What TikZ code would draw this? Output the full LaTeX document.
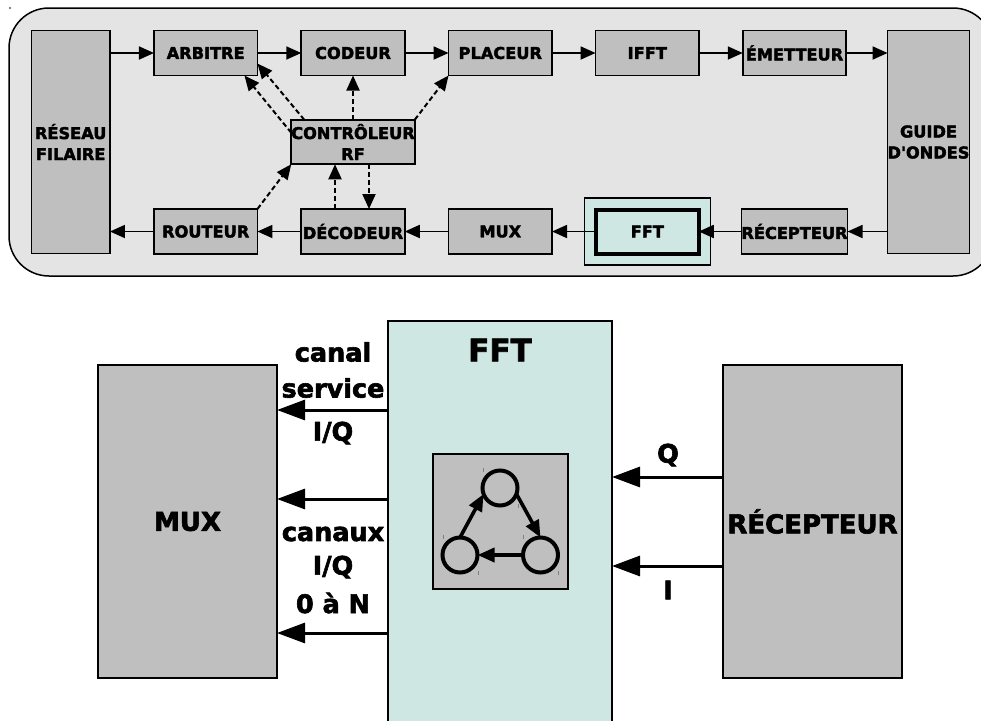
\documentclass[tikz,border=0pt]{standalone}
\usepackage{fontspec}
\setmainfont{DejaVu Sans}[BoldFeatures={FakeBold=2.4}]
\font\aposfont="DejaVu Sans/B:embolden=2.4" at 16.2pt
\usetikzlibrary{arrows.meta,calc}
\definecolor{bgpanel}{HTML}{E4E4E4}
\definecolor{boxgray}{HTML}{BFBFBF}
\definecolor{fftteal}{HTML}{CFE7E3}
\tikzset{
  x=1pt,y=-1pt,
  blk/.style={draw=black,fill=boxgray,line width=1.7pt,inner sep=0pt,outer sep=0pt,align=center,
    font=\fontsize{16.2}{21}\selectfont\bfseries},
  bigblk/.style={blk,font=\fontsize{26}{30}\selectfont\bfseries},
  lbl/.style={inner sep=0pt,align=center,font=\fontsize{25.5}{30}\selectfont\bfseries},
  flow/.style={draw=black,line width=1.8pt,-{Triangle[length=15pt,width=13pt]}},
  ctl/.style={flow,line width=2pt,dash pattern=on 5pt off 3pt},
  fat/.style={draw=black,line width=3pt,-{Triangle[length=28pt,width=20pt]}},
  ring/.style={circle,draw=black,line width=4pt,minimum size=35pt,inner sep=0pt,outer sep=0pt},
  ringarrow/.style={draw=black,line width=3.6pt,-{Triangle[length=17pt,width=14pt]}},
  handle/.style={draw=gray,line width=0.7pt}
}
\begin{document}
\begin{tikzpicture}
\path[use as bounding box,clip] (0,0) rectangle (981,720);
% upper panel
\node[draw=none,fill=gray,minimum size=1.5pt,inner sep=0pt] (speck) at (10,8) {};
\node[draw=black,line width=1.5pt,fill=bgpanel,rounded corners=40pt,minimum width=984pt,minimum height=268pt,inner sep=0pt,outer sep=0pt] (panel) at (501,142) {};
\node[blk,minimum width=78.5pt,minimum height=223pt] (res) at (70.7,142) {RÉSEAU\\FILAIRE};
\node[blk,minimum width=103.5pt,minimum height=45pt] (arb) at (205.7,53) {ARBITRE};
\node[blk,minimum width=103.5pt,minimum height=45pt] (cod) at (353,53) {CODEUR};
\node[blk,minimum width=103.5pt,minimum height=45pt] (pla) at (500.3,53) {PLACEUR};
\node[blk,minimum width=103.5pt,minimum height=45pt] (ifft) at (647.3,53) {IFFT};
\node[blk,minimum width=103.5pt,minimum height=45pt] (eme) at (794.5,53) {ÉMETTEUR};
\node[blk,minimum width=80.5pt,minimum height=223pt] (gui) at (928.5,142) {GUIDE\\D{\aposfont '}ONDES};
\node[blk,minimum width=121pt,minimum height=44.5pt] (ctrl) at (353,142) {CONTRÔLEUR\\RF};
\node[blk,minimum width=103.5pt,minimum height=45pt] (rou) at (205.7,231.5) {ROUTEUR};
\node[blk,minimum width=103.5pt,minimum height=45pt] (dec) at (353,231.5) {DÉCODEUR};
\node[blk,minimum width=103.5pt,minimum height=45pt] (mux) at (500.3,231.5) {MUX};
\node[draw=black,line width=1.3pt,fill=fftteal,minimum width=125.5pt,minimum height=67pt,inner sep=0pt,outer sep=0pt] (fftout) at (647.5,231.5) {};
\node[blk,fill=fftteal,line width=4pt,minimum width=103pt,minimum height=44pt] (fftin) at (647.3,231.5) {FFT};
\node[blk,minimum width=103.5pt,minimum height=45pt] (rec) at (794.5,231.5) {RÉCEPTEUR};
\draw[flow] (res.east |- arb.west) -- (arb.west);
\draw[flow] (arb) -- (cod);
\draw[flow] (cod) -- (pla);
\draw[flow] (pla) -- (ifft);
\draw[flow] (ifft) -- (eme);
\draw[flow] (eme.east) -- (gui.west |- eme.east);
\draw[flow] (gui.west |- rec.east) -- (rec.east);
\draw[flow] (rec.west) -- (fftin.east);
\draw[flow] (fftin.west) -- (mux.east);
\draw[flow] (mux) -- (dec);
\draw[flow] (dec) -- (rou);
\draw[flow] (rou.west) -- (res.east |- rou.west);
\draw[ctl] ($(ctrl.north west)+(0,13)$) -- ($(arb.south east)+(-13,0)$);
\draw[ctl] ($(ctrl.north west)+(13,0)$) -- ($(arb.south east)+(0,-12)$);
\draw[ctl] (ctrl.north) -- (cod.south);
\draw[ctl] (ctrl.north east) -- (pla.south west);
\draw[ctl] (rou.north east) -- (ctrl.south west);
\draw[ctl] ($(dec.north)+(-18,0)$) -- ($(ctrl.south)+(-18,0)$);
\draw[ctl] ($(ctrl.south)+(16,0)$) -- ($(dec.north)+(16,0)$);
% lower detail
\node[bigblk,minimum width=179pt,minimum height=313pt] (bmux) at (187.5,521.5) {MUX};
\node[draw=black,line width=1.7pt,fill=fftteal,minimum width=224pt,minimum height=430pt,inner sep=0pt,outer sep=0pt] (bfft) at (500,536) {};
\node[inner sep=0pt,font=\fontsize{31}{34}\selectfont\bfseries] (bfftt) at (500,350) {FFT};
\node[bigblk,minimum width=179pt,minimum height=313pt] (brec) at (812.5,521.5) {RÉCEPTEUR};
\node[blk,minimum width=135pt,minimum height=135pt] (inner) at (500.5,521.5) {};
\node[ring] (r1) at (500,488) {};
\node[ring] (r2) at (540.5,555) {};
\node[ring] (r3) at (460,555) {};
\draw[ringarrow] (r1.340) -- (r2.north);
\draw[ringarrow] (r2.west) -- (r3.east);
\draw[ringarrow] (r3.north) -- (r1.200);
\foreach \hx/\hy in {483/470,518.5/506,443/537,478.5/573,523/537,558.5/573}
  \draw[handle] (\hx,\hy-2) -- (\hx,\hy+2);
\draw[fat] (bfft.west |- 0,410) -- (bmux.east |- 0,410);
\draw[fat] (bfft.west |- 0,499) -- (bmux.east |- 0,499);
\draw[fat] (bfft.west |- 0,633) -- (bmux.east |- 0,633);
\draw[fat] (brec.west |- 0,477) -- (bfft.east |- 0,477);
\draw[fat] (brec.west |- 0,566) -- (bfft.east |- 0,566);
\node[lbl] (l1) at (333,352) {canal};
\node[lbl] (l2) at (333,388) {service};
\node[lbl] (l3) at (333,433) {I/Q};
\node[lbl] (l4) at (333,534) {canaux};
\node[lbl] (l5) at (333,567) {I/Q};
\node[lbl] (l6) at (333,603) {0 à N};
\node[lbl] (l7) at (668,455) {Q};
\node[lbl] (l8) at (668,590) {I};
\end{tikzpicture}
\end{document}
